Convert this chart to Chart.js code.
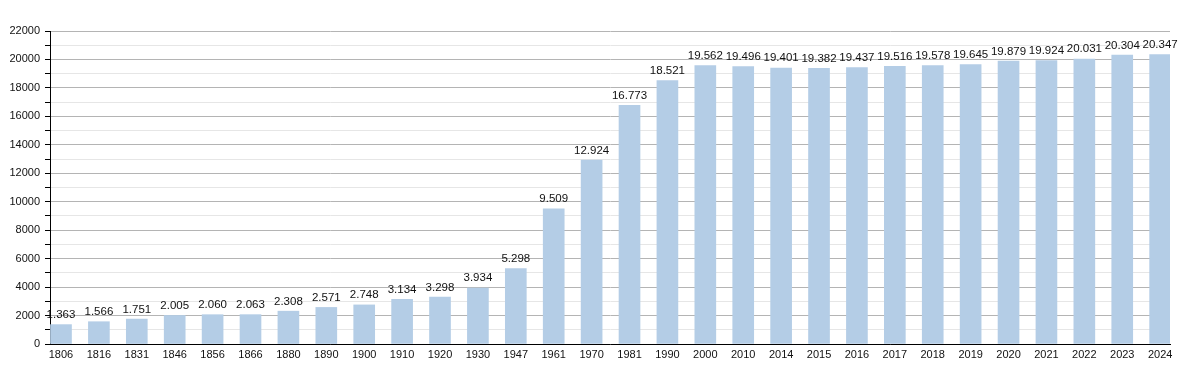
<!DOCTYPE html>
<html>
<head>
<meta charset="utf-8">
<script src="https://cdn.jsdelivr.net/npm/chart.js@4"></script>
<style>
  html, body { margin: 0; padding: 0; background: #fff; }
  #wrap { width: 1200px; height: 373px; }
</style>
</head>
<body>
<div id="wrap"><canvas id="myChart" width="1200" height="373"></canvas></div>
<script>
const years = ["1806", "1816", "1831", "1846", "1856", "1866", "1880", "1890", "1900", "1910",
  "1920", "1930", "1947", "1961", "1970", "1981", "1990", "2000", "2010", "2014",
  "2015", "2016", "2017", "2018", "2019", "2020", "2021", "2022", "2023", "2024"];
const population = [1363, 1566, 1751, 2005, 2060, 2063, 2308, 2571, 2748, 3134,
  3298, 3934, 5298, 9509, 12924, 16773, 18521, 19562, 19496, 19401,
  19382, 19437, 19516, 19578, 19645, 19879, 19924, 20031, 20304, 20347];
const yMax = 22000;
const yStep = 1000;

const fmt = (v) => v.toLocaleString("de-DE");

const valueLabels = {
  id: "valueLabels",
  afterDatasetsDraw(chart) {
    const ctx = chart.ctx;
    const meta = chart.getDatasetMeta(0);
    ctx.save();
    ctx.font = "11.5px 'Liberation Sans', Arial, sans-serif";
    ctx.fillStyle = "#111";
    ctx.textAlign = "center";
    ctx.textBaseline = "bottom";
    meta.data.forEach((bar, i) => {
      ctx.fillText(fmt(population[i]), bar.x, bar.y - 4);
    });
    ctx.restore();
  },
};

const ctx = document.getElementById("myChart");
new Chart(ctx, {
  type: "bar",
  data: {
    datasets: [{
      data: population.map((v, i) => ({ x: i, y: v })),
      backgroundColor: "#b4cde6",
      borderWidth: 0,
      barThickness: 21,
    }],
  },
  options: {
    responsive: false,
    animation: false,
    layout: { padding: { top: 31, right: 30, left: 0, bottom: 0 } },
    plugins: { legend: { display: false }, tooltip: { enabled: false } },
    scales: {
      x: {
        type: "linear",
        offset: false,
        min: -0.29,
        max: 29.26,
        afterFit: (s) => { s.height = 29; },
        afterBuildTicks: (s) => { s.ticks = years.map((y, i) => ({ value: i })); },
        grid: { display: false, drawTicks: false, offset: false },
        border: { display: true, color: "#000", width: 1 },
        ticks: {
          autoSkip: false,
          maxRotation: 0,
          padding: 4,
          color: "#111",
          font: { family: "'Liberation Sans', Arial, sans-serif", size: 11 },
          callback: (v) => years[v] ?? "",
        },
      },
      y: {
        min: 0,
        max: yMax,
        afterFit: (s) => { s.width = 50; },
        grid: {
          color: (c) => (c.tick && c.tick.value % 2000 === 0 ? "#b4b4b4" : "#e6e6e6"),
          tickColor: "#000",
          tickLength: 5,
          drawTicks: true,
        },
        border: { display: true, color: "#000", width: 1 },
        ticks: {
          stepSize: yStep,
          autoSkip: false,
          padding: 5,
          color: "#111",
          font: { family: "'Liberation Sans', Arial, sans-serif", size: 11 },
          callback: (v) => (v % 2000 === 0 ? String(v) : ""),
        },
      },
    },
  },
  plugins: [valueLabels],
});
</script>
</body>
</html>
